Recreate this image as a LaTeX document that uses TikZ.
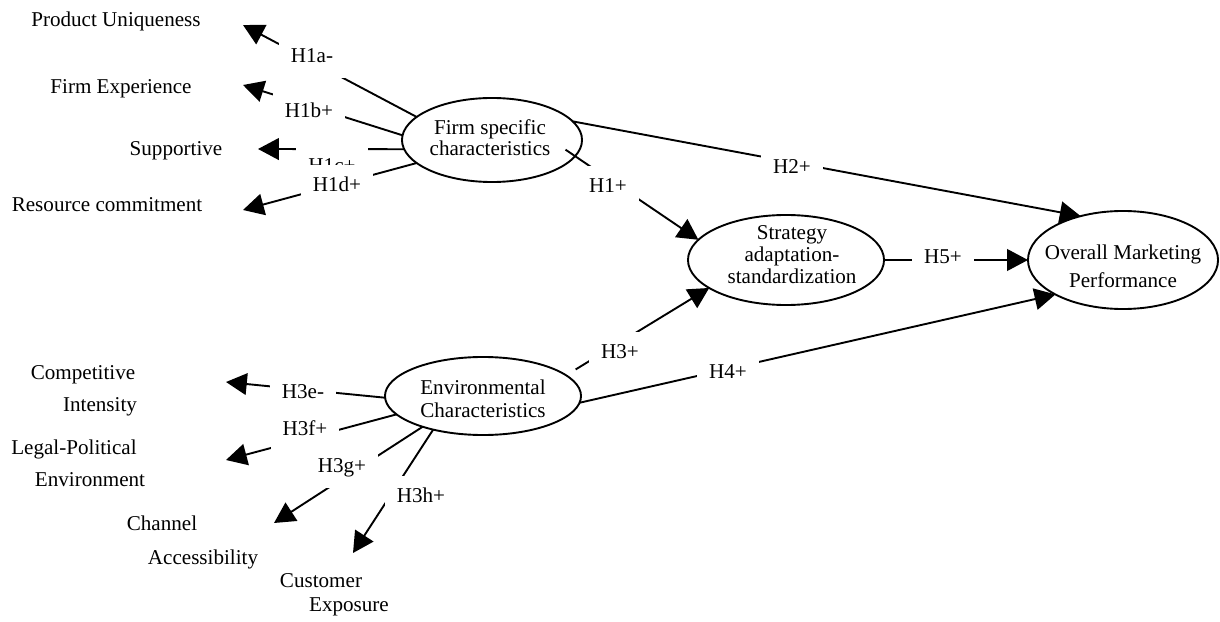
\documentclass[tikz,border=0pt]{standalone}
\usepackage{fontspec}
\setmainfont{Liberation Serif}
\usetikzlibrary{shapes.geometric,arrows.meta}

\begin{document}
\begin{tikzpicture}[
  x=0.025cm, y=-0.025cm, line width=1.35pt,
  font=\fontsize{15}{16}\selectfont,
  construct/.style={draw, ellipse, inner sep=0pt, outer sep=0pt},
  inside/.style={align=center, inner sep=0pt},
  item/.style={inner sep=0pt, text height=10.5pt, text depth=3pt},
  hyp/.style={item, fill=white, inner sep=0.3cm},
  link/.style={-{Triangle[length=0.52cm,width=0.54cm]}}
]
\useasboundingbox (0,0) rectangle (1220,622);

% constructs
\node[construct, minimum width=4.5cm, minimum height=2.1cm] (FS) at (492,140) {};
\node[inside, font=\fontsize{15}{15}\selectfont] (FSt) at (490,138) {Firm specific\\characteristics};

\node[construct, minimum width=4.9cm, minimum height=2.25cm] (SA) at (786,260) {};
\node[inside, font=\fontsize{15}{15.7}\selectfont] (SAt) at (792,255) {Strategy\\adaptation-\\standardization};

\node[construct, minimum width=4.75cm, minimum height=2.45cm] (OM) at (1123,260) {};
\node[inside, font=\fontsize{15}{20}\selectfont] (OMt) at (1123,266) {Overall Marketing\\Performance};

\node[construct, minimum width=4.9cm, minimum height=1.95cm] (EC) at (483,396) {};
\node[inside, font=\fontsize{15}{16.4}\selectfont] (ECt) at (483,399) {Environmental\\Characteristics};

% firm side items
\node[item] (PU) at (116,21) {Product Uniqueness};
\node[item] (FE) at (121,88) {Firm Experience};
\node[item] (SU) at (176,150) {Supportive};
\node[item] (RC) at (107,206) {Resource commitment};

% environment side items
\node[item] (CI) at (83,374) {Competitive};
\node[item] (CIb) at (100,406) {Intensity};
\node[item] (LP) at (74,449) {Legal-Political};
\node[item] (LPb) at (90,481) {Environment};
\node[item] (CA) at (162,525) {Channel};
\node[item] (CAb) at (203,559) {Accessibility};
\node[item] (CE) at (321,582) {Customer};
\node[item] (CEb) at (349,606) {Exposure};

\coordinate (t1a) at (243,25);
\coordinate (t1b) at (243,85);
\coordinate (t1c) at (258,149);
\coordinate (t1d) at (243,210);
\coordinate (t3e) at (226,382);
\coordinate (t3f) at (226,460);
\coordinate (t3g) at (274,523);
\coordinate (t3h) at (353,553);

% paths
\draw[link] (FS.163) -- (t1a);
\draw[link] (FS.177) -- (t1b);
\draw[link] (FS.186) -- (t1c);
\draw[link] (FS.197) -- (t1d);
\draw[link, shorten <=-0.29cm] (FS.-11) -- (SA.167);
\draw[link] (FS.13) -- (OM.134);
\draw[link] (SA.east) -- (OM.west);
\draw[link, shorten <=0.28cm] (EC.14) -- (SA.200);
\draw[link] (EC.-4) -- (OM.207);
\draw[link] (EC.181) -- (t3e);
\draw[link] (EC.192) -- (t3f);
\draw[link] (EC.207) -- (t3g);
\draw[link] (EC.214) -- (t3h);

% hypotheses
\node[hyp] (H1a) at (312,57) {H1a-};
\node[hyp] (H1b) at (309,112) {H1b+};
\node[hyp] (H1c) at (332,167) {H1c+};
\node[hyp] (H1d) at (337,186) {H1d+};
\node[hyp] (H1) at (608,187) {H1+};
\node[hyp] (H2) at (792,168) {H2+};
\node[hyp] (H5) at (943,258) {H5+};
\node[hyp] (H3) at (620,353) {H3+};
\node[hyp] (H4) at (728,373) {H4+};
\node[hyp] (H3e) at (303,393) {H3e-};
\node[hyp] (H3f) at (305,430) {H3f+};
\node[hyp] (H3g) at (342,467) {H3g+};
\node[hyp] (H3h) at (421,497) {H3h+};

\end{tikzpicture}
\end{document}
